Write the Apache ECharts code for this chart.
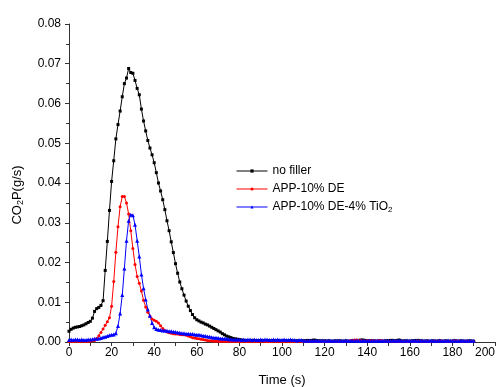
<!DOCTYPE html>
<html>
<head>
<meta charset="utf-8">
<script src="https://cdn.jsdelivr.net/npm/echarts@6/dist/echarts.min.js"></script>
<style>
html,body{margin:0;padding:0;background:#fff;}
#chart{width:502px;height:387px;}
</style>
</head>
<body>
<div id="chart"></div>
<script>
// one value per second, t = 0..190
var noFiller=[
0.0027,0.0032,0.0035,0.0037,0.0038,0.0039,0.0041,0.0043,0.0046,0.0049,
0.0052,0.0060,0.0077,0.0084,0.0087,0.0092,0.0104,0.0180,0.0253,0.0331,
0.0404,0.0456,0.0511,0.0547,0.0581,0.0617,0.0650,0.0664,0.0688,0.0678,
0.0676,0.0658,0.0638,0.0622,0.0586,0.0556,0.0531,0.0507,0.0488,0.0471,
0.0451,0.0426,0.0400,0.0380,0.0358,0.0333,0.0305,0.0280,0.0252,0.0225,
0.0197,0.0173,0.0151,0.0134,0.0118,0.0103,0.0090,0.0079,0.0069,0.0061,
0.0056,0.0053,0.0050,0.0048,0.0045,0.0043,0.0040,0.0037,0.0034,0.0031,
0.0028,0.0025,0.0021,0.0018,0.0015,0.0013,0.0011,0.0009,0.0008,0.0007,
0.0006,0.0005,0.0004,0.0004,0.0003,0.0003,0.0004,0.0003,0.0003,0.0002,
0.0003,0.0003,0.0002,0.0003,0.0003,0.0002,0.0003,0.0002,0.0003,0.0002,
0.0002,0.0003,0.0002,0.0002,0.0003,0.0002,0.0002,0.0003,0.0002,0.0002,
0.0003,0.0003,0.0004,0.0003,0.0004,0.0005,0.0004,0.0003,0.0003,0.0002,
0.0003,0.0002,0.0003,0.0002,0.0002,0.0003,0.0002,0.0003,0.0002,0.0002,
0.0003,0.0002,0.0002,0.0003,0.0003,0.0004,0.0004,0.0005,0.0005,0.0004,
0.0003,0.0003,0.0002,0.0003,0.0002,0.0002,0.0003,0.0002,0.0002,0.0003,
0.0003,0.0004,0.0004,0.0003,0.0004,0.0005,0.0003,0.0002,0.0003,0.0002,
0.0002,0.0003,0.0003,0.0004,0.0004,0.0003,0.0002,0.0002,0.0003,0.0002,
0.0002,0.0003,0.0002,0.0002,0.0003,0.0002,0.0002,0.0003,0.0002,0.0002,
0.0002,0.0003,0.0002,0.0002,0.0003,0.0002,0.0002,0.0002,0.0003,0.0002,0.0002
];
var app10DE=[
0.0001,0.0002,0.0001,0.0002,0.0002,0.0001,0.0002,0.0002,0.0001,0.0002,
0.0002,0.0003,0.0004,0.0009,0.0016,0.0024,0.0033,0.0042,0.0051,0.0061,
0.0090,0.0152,0.0226,0.0290,0.0340,0.0366,0.0366,0.0350,0.0322,0.0280,
0.0235,0.0195,0.0165,0.0148,0.0128,0.0105,0.0088,0.0075,0.0065,0.0058,
0.0055,0.0052,0.0048,0.0041,0.0034,0.0029,0.0025,0.0023,0.0022,0.0021,
0.0020,0.0020,0.0019,0.0018,0.0018,0.0017,0.0015,0.0013,0.0011,0.0010,
0.0009,0.0008,0.0007,0.0006,0.0005,0.0004,0.0003,0.0003,0.0002,0.0002,
0.0002,0.0001,0.0002,0.0001,0.0001,0.0002,0.0001,0.0001,0.0002,0.0001,
0.0001,0.0001,0.0002,0.0001,0.0001,0.0001,0.0002,0.0001,0.0001,0.0001,
0.0001,0.0002,0.0001,0.0001,0.0001,0.0001,0.0002,0.0001,0.0001,0.0001,
0.0001,0.0001,0.0002,0.0001,0.0001,0.0001,0.0001,0.0002,0.0001,0.0001,
0.0001,0.0001,0.0001,0.0002,0.0001,0.0001,0.0001,0.0001,0.0002,0.0001,
0.0001,0.0001,0.0002,0.0001,0.0001,0.0001,0.0002,0.0001,0.0001,0.0002,
0.0002,0.0002,0.0003,0.0004,0.0005,0.0005,0.0004,0.0004,0.0003,0.0002,
0.0003,0.0003,0.0004,0.0003,0.0002,0.0003,0.0004,0.0003,0.0002,0.0002,
0.0001,0.0002,0.0001,0.0001,0.0002,0.0001,0.0001,0.0002,0.0001,0.0001,
0.0002,0.0001,0.0001,0.0002,0.0003,0.0002,0.0001,0.0001,0.0002,0.0001,
0.0001,0.0002,0.0001,0.0002,0.0003,0.0002,0.0002,0.0001,0.0001,0.0002,
0.0002,0.0003,0.0003,0.0002,0.0002,0.0001,0.0002,0.0002,0.0001,0.0001,0.0001
];
var app10DE4TiO2=[
0.0005,0.0006,0.0005,0.0006,0.0006,0.0005,0.0006,0.0005,0.0005,0.0006,
0.0006,0.0007,0.0008,0.0008,0.0009,0.0010,0.0012,0.0013,0.0015,0.0017,
0.0018,0.0019,0.0022,0.0040,0.0072,0.0118,0.0185,0.0255,0.0305,0.0320,
0.0319,0.0295,0.0255,0.0215,0.0170,0.0135,0.0107,0.0082,0.0066,0.0048,
0.0037,0.0033,0.0031,0.0030,0.0029,0.0029,0.0028,0.0027,0.0027,0.0026,
0.0025,0.0024,0.0023,0.0022,0.0022,0.0021,0.0021,0.0020,0.0020,0.0019,
0.0018,0.0018,0.0017,0.0016,0.0015,0.0014,0.0013,0.0012,0.0011,0.0011,
0.0010,0.0009,0.0009,0.0008,0.0008,0.0007,0.0007,0.0006,0.0006,0.0006,
0.0006,0.0005,0.0006,0.0005,0.0006,0.0006,0.0005,0.0006,0.0005,0.0005,
0.0006,0.0005,0.0006,0.0006,0.0005,0.0005,0.0006,0.0005,0.0006,0.0005,
0.0005,0.0006,0.0005,0.0005,0.0006,0.0005,0.0005,0.0004,0.0005,0.0005,
0.0004,0.0003,0.0003,0.0004,0.0003,0.0003,0.0004,0.0003,0.0003,0.0004,
0.0003,0.0003,0.0004,0.0003,0.0003,0.0003,0.0004,0.0003,0.0003,0.0003,
0.0004,0.0003,0.0003,0.0004,0.0003,0.0004,0.0003,0.0003,0.0004,0.0003,
0.0003,0.0004,0.0003,0.0003,0.0003,0.0004,0.0003,0.0003,0.0004,0.0003,
0.0003,0.0003,0.0004,0.0003,0.0003,0.0004,0.0003,0.0003,0.0003,0.0004,
0.0003,0.0003,0.0004,0.0003,0.0003,0.0003,0.0004,0.0003,0.0003,0.0003,
0.0004,0.0003,0.0003,0.0003,0.0004,0.0003,0.0003,0.0003,0.0004,0.0003,
0.0003,0.0004,0.0003,0.0003,0.0003,0.0004,0.0003,0.0003,0.0003,0.0003,0.0003
];
var seriesNames=['no filler','APP-10% DE','APP-10% DE-4% TiO2'];
var seriesColors=['#000000','#ff0000','#0000ff'];
var seriesSymbols=['rect','circle','triangle'];

function pairs(arr){
	var out=[];
	for(var i=0;i<arr.length;i++){ out.push([i,arr[i]]); }
	return out;
}

var font='"Liberation Sans", Arial, sans-serif';
var mychart=echarts.init(document.getElementById('chart'));
var option={
	animation:false,
	backgroundColor:'#fff',
	grid:{left:69,right:7,top:24,bottom:45,
		outerBoundsMode:'auto',outerBounds:{left:-60,top:-60,width:640,height:520}},
	legend:{
		orient:'vertical',
		left:231,
		top:159,
		itemWidth:31,
		itemHeight:4,
		itemGap:4,
		data:seriesNames,
		lineStyle:{width:1},
		formatter:function(name){
			return name.replace('TiO2','TiO{sub|2}');
		},
		textStyle:{
			fontFamily:font,fontSize:12,color:'#000',lineHeight:14,
			rich:{sub:{fontFamily:font,fontSize:8,color:'#000',verticalAlign:'bottom',lineHeight:14,padding:[6,0,0,0]}}
		}
	},
	xAxis:{
		type:'value',
		min:0,max:200,interval:20,
		name:'Time (s)',
		nameLocation:'middle',
		nameGap:32,
		nameTextStyle:{fontFamily:font,fontSize:13,color:'#000'},
		splitLine:{show:false},
		axisLine:{lineStyle:{color:'#333',width:1}},
		axisTick:{length:4,lineStyle:{color:'#333'}},
		minorTick:{show:true,splitNumber:2,length:4,lineStyle:{color:'#333'}},
		axisLabel:{fontFamily:font,fontSize:12,color:'#000',margin:5,
			showMaxLabel:true,showMinLabel:true,alignMaxLabel:'right'}
	},
	yAxis:{
		type:'value',
		min:0,max:0.08,interval:0.01,
		name:'CO{sub|2}P(g/s)',
		nameLocation:'middle',
		nameRotate:90,
		nameGap:44,
		nameTextStyle:{
			fontFamily:font,fontSize:13,color:'#000',padding:[0,24,0,0],
			rich:{sub:{fontFamily:font,fontSize:9,color:'#000',padding:[7,0,0,0]}}
		},
		splitLine:{show:false},
		axisLine:{show:true,lineStyle:{color:'#333',width:1}},
		axisTick:{show:true,length:4,lineStyle:{color:'#333'}},
		minorTick:{show:true,splitNumber:2,length:3,lineStyle:{color:'#333'}},
		axisLabel:{fontFamily:font,fontSize:12,color:'#000',
			formatter:function(v){return v.toFixed(2);}}
	},
	series:[noFiller,app10DE,app10DE4TiO2].map(function(arr,k){
		return {
			name:seriesNames[k],
			type:'line',
			data:pairs(arr),
			symbol:seriesSymbols[k],
			symbolSize:k==2?4:3,
			showAllSymbol:true,
			lineStyle:{color:seriesColors[k],width:1},
			itemStyle:{color:seriesColors[k]}
		};
	})
};
mychart.setOption(option);
</script>
</body>
</html>
